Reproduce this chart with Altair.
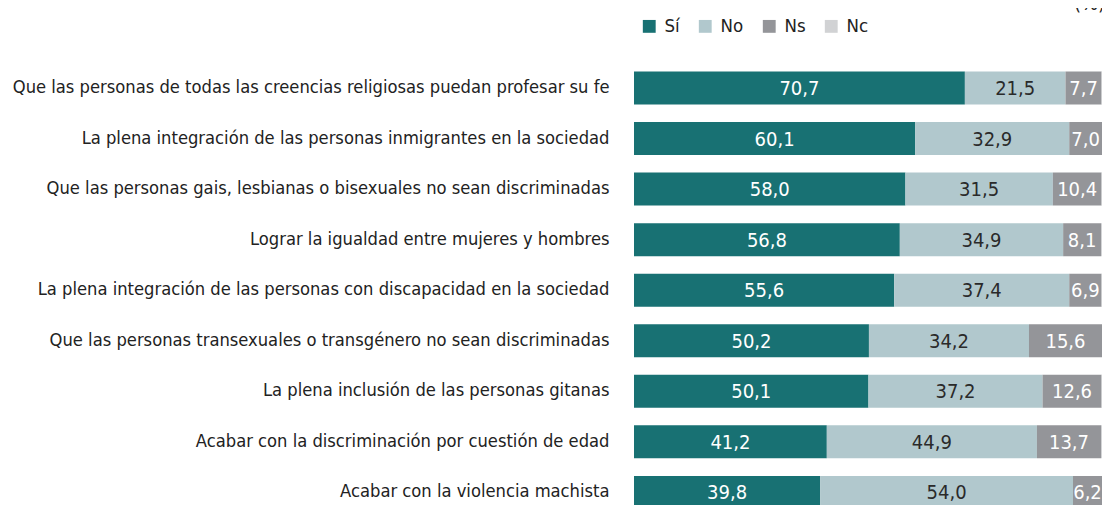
import altair as alt
import pandas as pd

categories = [
    "Que las personas de todas las creencias religiosas puedan profesar su fe",
    "La plena integración de las personas inmigrantes en la sociedad",
    "Que las personas gais, lesbianas o bisexuales no sean discriminadas",
    "Lograr la igualdad entre mujeres y hombres",
    "La plena integración de las personas con discapacidad en la sociedad",
    "Que las personas transexuales o transgénero no sean discriminadas",
    "La plena inclusión de las personas gitanas",
    "Acabar con la discriminación por cuestión de edad",
    "Acabar con la violencia machista",
]
si = [70.7, 60.1, 58.0, 56.8, 55.6, 50.2, 50.1, 41.2, 39.8]
no = [21.5, 32.9, 31.5, 34.9, 37.4, 34.2, 37.2, 44.9, 54.0]
ns = [7.7, 7.0, 10.4, 8.1, 6.9, 15.6, 12.6, 13.7, 6.2]
nc = [0.1, 0.0, 0.1, 0.2, 0.1, 0.0, 0.1, 0.2, 0.0]
series = ["Sí", "No", "Ns", "Nc"]
colors = ["#187173", "#b1c8cd", "#949599", "#d1d2d4"]
text_colors = ["#ffffff", "#2a2a2a", "#ffffff", "#2a2a2a"]

rows = []
for i, c in enumerate(categories):
    for k, (s, vals) in enumerate(zip(series, [si, no, ns, nc])):
        v = vals[i]
        rows.append({
            "cat": c, "serie": s, "value": v, "order": k,
            "label": f"{v:.1f}".replace(".", ",") if s != "Nc" else "",
        })
df = pd.DataFrame(rows)

FONT = "'DejaVu Sans Condensed', 'DejaVu Sans', sans-serif"

y_enc = alt.Y("cat:N", sort=categories, title=None,
              scale=alt.Scale(range=[54.7, 509.7], paddingInner=0.347, paddingOuter=0.1735),
              axis=alt.Axis(domain=False, ticks=False, labelPadding=25, labelFontSize=18.2,
                            labelColor="#222222", labelFont=FONT, labelLimit=700))
x_scale = alt.Scale(domain=[0, 100], range=[0, 468], nice=False, zero=True)

bars = alt.Chart(df).mark_bar().encode(
    y=y_enc,
    x=alt.X("value:Q", stack="zero", scale=x_scale, axis=None),
    color=alt.Color("serie:N", sort=series,
                    scale=alt.Scale(domain=series, range=colors),
                    legend=alt.Legend(title=None, orient="none", direction="horizontal",
                                      legendX=6, legendY=9, symbolType="square",
                                      symbolSize=165, symbolStrokeWidth=0,
                                      labelFontSize=18.5, labelFont=FONT, labelColor="#222222",
                                      columnPadding=16, labelOffset=6, padding=0)),
    order=alt.Order("order:Q"),
)

texts = alt.Chart(df).transform_stack(
    stack="value", groupby=["cat"], as_=["x0", "x1"],
    sort=[alt.SortField("order", order="ascending")],
).transform_calculate(
    mid="(datum.x0 + datum.x1) / 2"
).mark_text(fontSize=20, font=FONT, baseline="middle", align="center", dy=1).encode(
    y=alt.Y("cat:N", sort=categories),
    x=alt.X("mid:Q", scale=x_scale),
    text="label:N",
    color=alt.Color("serie:N", scale=alt.Scale(domain=series, range=text_colors), legend=None),
)

pct = alt.Chart(pd.DataFrame({"t": ["(%)"]})).mark_text(
    fontSize=20, font=FONT, align="left", baseline="alphabetic", color="#222222"
).encode(x=alt.value(440), y=alt.value(2), text="t:N")

chart = alt.layer(bars, texts, pct).resolve_scale(color="independent").properties(
    width=468, height=497,
    autosize=alt.AutoSizeParams(type="none"),
    padding={"left": 626, "top": 0, "right": 0, "bottom": 0},
).configure_view(stroke=None)

chart.save("out.html", embed_options={"renderer": "svg", "actions": False})
